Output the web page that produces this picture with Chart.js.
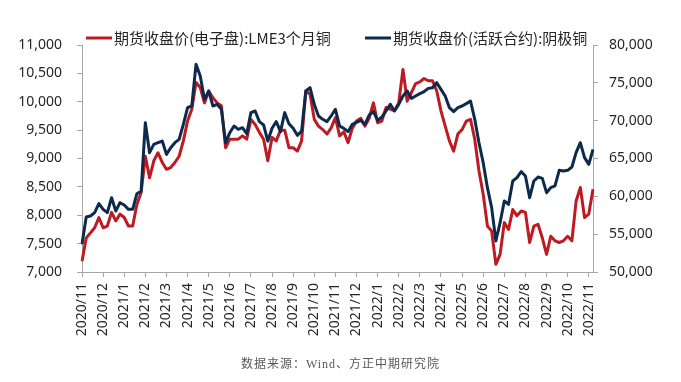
<!DOCTYPE html>
<html>
<head>
<meta charset="utf-8">
<script src="https://cdn.jsdelivr.net/npm/chart.js@4.4.0/dist/chart.umd.min.js"></script>
<style>
html,body{margin:0;padding:0;background:#fff;}
#wrap{position:relative;width:681px;height:382px;overflow:hidden;}
#source{position:absolute;left:0;top:354px;width:681px;text-align:center;font-size:12px;font-family:"Liberation Serif","Noto Sans CJK SC",serif;color:#595959;letter-spacing:1px;}
</style>
</head>
<body>
<div id="wrap">
<canvas id="c" width="681" height="382"></canvas>
<div id="source">数据来源：Wind、方正中期研究院</div>
</div>
<script>
// Month tick labels (each month has 5 samples, plus one sample after the last tick)
const monthLabels = ["2020/11","2020/12","2021/1","2021/2","2021/3","2021/4","2021/5","2021/6","2021/7","2021/8","2021/9","2021/10","2021/11","2021/12","2022/1","2022/2","2022/3","2022/4","2022/5","2022/6","2022/7","2022/8","2022/9","2022/10","2022/11"];
const samplesPerMonth = 5;

const seriesNames = ["期货收盘价(电子盘):LME3个月铜", "期货收盘价(活跃合约):阴极铜"];

// LME 3-month copper (left axis)
const lmeCopper = [
 7190,7600,7690,7780,7960,7780,7810,8050,7900,8020,
 7960,7810,7810,8190,8400,9040,8660,8960,9100,8930,
 8810,8840,8930,9040,9310,9660,9870,10340,10250,9980,
 10190,10070,9980,9930,9190,9340,9340,9340,9400,9340,
 9690,9600,9460,9340,8960,9370,9310,9500,9500,9190,
 9190,9130,9310,10190,10130,9690,9570,9510,9430,9540,
 9720,9400,9470,9280,9530,9660,9710,9570,9710,9980,
 9630,9660,9900,9870,9840,9980,10570,10010,10160,10320,
 10350,10410,10370,10370,10190,9840,9570,9310,9130,9430,
 9510,9660,9690,9340,8780,8370,7810,7720,7135,7310,
 7870,7750,8100,7990,8075,8050,7520,7810,7840,7600,
 7310,7630,7550,7520,7550,7630,7550,8250,8490,7960,
 8020,8460
];

// SHFE cathode copper, active contract (right axis)
const shfeCopper = [
 53660,57270,57400,57840,59030,58280,57840,59820,58060,59160,
 58850,58280,58280,60350,60700,69730,65770,66870,67090,67310,
 65550,66430,67090,67530,69510,71720,71940,77440,75900,72820,
 73920,71940,72160,71500,67090,68410,69290,68850,69070,68280,
 71060,71280,69870,69430,67310,68990,69870,68550,71060,69600,
 68990,68060,68630,73920,74360,72160,70620,70180,69870,70620,
 71500,69290,68990,68550,69510,69780,70040,69510,70750,71190,
 70040,70480,71280,72160,71280,72160,73260,73920,72950,73260,
 73570,73830,74270,74360,75020,74140,73260,71720,71190,71720,
 71940,72250,72600,70180,67090,64450,61150,58500,54100,56520,
 59380,58940,62030,62470,63260,62690,59820,62030,62550,62380,
 60480,61150,61370,63440,63350,63440,63880,65770,67090,65110,
 64230,66210
];

const leftTicks = {min:7000, max:11000, step:500};
const rightTicks = {min:50000, max:80000, step:5000};

// category labels built from the month list
const labels = lmeCopper.map((_, i) => (i % samplesPerMonth === 0 && monthLabels[i / samplesPerMonth]) ? monthLabels[i / samplesPerMonth] : "");

const RED = "#BE1A21";
const NAVY = "#0B2A4C";
const AXIS = "#A6A6A6";
const TXT = "#262626";
const fmt = v => Number(v).toLocaleString("en-US");

const legendPlugin = {
  id: "lineLegend",
  afterDraw(chart) {
    const ctx = chart.ctx;
    const pos = [{x0:86, x1:112, tx:114}, {x0:365, x1:391, tx:393}];
    const y = 38;
    ctx.save();
    chart.data.datasets.forEach((ds, i) => {
      const p = pos[i];
      ctx.strokeStyle = ds.borderColor;
      ctx.lineWidth = 3;
      ctx.beginPath();
      ctx.moveTo(p.x0, y);
      ctx.lineTo(p.x1, y);
      ctx.stroke();
      ctx.fillStyle = TXT;
      ctx.font = '15px "Noto Sans CJK SC"';
      ctx.textBaseline = "middle";
      ctx.textAlign = "left";
      ctx.fillText(ds.label, p.tx, y);
    });
    ctx.restore();
  }
};

const axisGrid = {display:true, drawOnChartArea:false, drawTicks:true, tickLength:5, color:AXIS, lineWidth:1};
const tickFont = {family:"Noto Sans", size:14};

new Chart(document.getElementById("c"), {
  type: "line",
  data: {
    labels: labels,
    datasets: [
      {label: seriesNames[0], data: lmeCopper, borderColor: RED, backgroundColor: RED, borderWidth: 3, pointRadius: 0, tension: 0, yAxisID: "yL", order: 1, borderJoinStyle: "round"},
      {label: seriesNames[1], data: shfeCopper, borderColor: NAVY, backgroundColor: NAVY, borderWidth: 3, pointRadius: 0, tension: 0, yAxisID: "yR", order: 0, borderJoinStyle: "round"}
    ]
  },
  options: {
    responsive: false,
    animation: false,
    layout: {padding: {top: 45, left: 0, right: 0, bottom: 0}},
    plugins: {legend: {display: false}, tooltip: {enabled: false}},
    scales: {
      x: {
        type: "category",
        offset: false,
        grid: axisGrid,
        border: {display: true, color: AXIS},
        ticks: {autoSkip: false, maxRotation: 90, minRotation: 90, padding: 6, font: tickFont, color: TXT,
          callback: (v, i) => labels[i] ? labels[i] : null},
        afterFit(s) { s.height = 110; }
      },
      yL: {
        position: "left",
        min: leftTicks.min, max: leftTicks.max,
        grid: axisGrid,
        border: {display: true, color: AXIS},
        ticks: {stepSize: leftTicks.step, padding: 15, font: tickFont, color: TXT, callback: v => fmt(v)},
        afterFit(s) { s.width = 82; }
      },
      yR: {
        position: "right",
        min: rightTicks.min, max: rightTicks.max,
        grid: axisGrid,
        border: {display: true, color: AXIS},
        ticks: {stepSize: rightTicks.step, padding: 11, font: tickFont, color: TXT, callback: v => fmt(v)},
        afterFit(s) { s.width = 88; }
      }
    }
  },
  plugins: [legendPlugin]
});
</script>
</body>
</html>
